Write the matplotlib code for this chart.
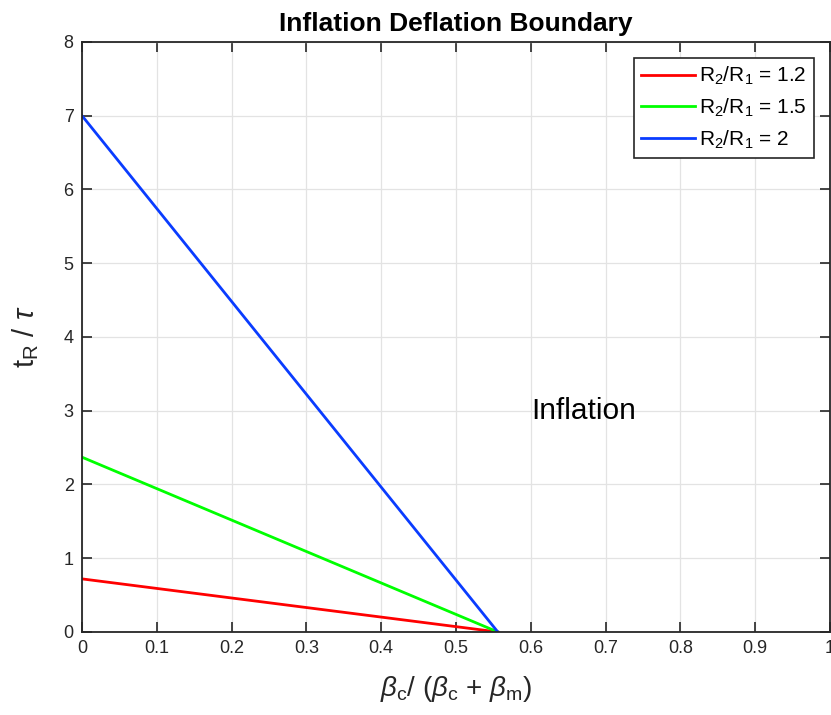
import matplotlib
matplotlib.use('Agg')
import matplotlib.pyplot as plt
import numpy as np

plt.rcParams['font.family'] = ['Liberation Sans', 'DejaVu Sans']
plt.rcParams['mathtext.fontset'] = 'custom'
plt.rcParams['mathtext.rm'] = 'Liberation Sans'
plt.rcParams['mathtext.it'] = 'Liberation Sans:italic'
plt.rcParams['mathtext.bf'] = 'Liberation Sans:bold'

# boundary lines: (x, t_R/tau) end points
x_vals = [0.0, 0.556]
ratio_labels = ['1.2', '1.5', '2']
boundary_y = {
    '1.2': [0.72, 0.0],
    '1.5': [2.37, 0.0],
    '2': [7.0, 0.0],
}
colors = ['#ff0000', '#00ff00', '#0a3cff']

fig = plt.figure(figsize=(8.31, 7.15), dpi=100)
ax = fig.add_axes([0.0987, 0.1161, 0.9, 0.8252])

for r, c in zip(ratio_labels, colors):
    ax.plot(x_vals, boundary_y[r], color=c, linewidth=2.0,
            label=r'R$_\mathregular{2}$/R$_\mathregular{1}$ = ' + r)

ax.set_xlim(0, 1)
ax.set_ylim(0, 8)
ax.set_xticks(np.arange(0, 1.01, 0.1))
ax.set_xticklabels(['0', '0.1', '0.2', '0.3', '0.4', '0.5', '0.6', '0.7', '0.8', '0.9', '1'])
ax.set_yticks(np.arange(0, 9, 1))
ax.tick_params(direction='in', top=True, right=True, labelsize=13, colors='#262626',
               length=7, width=1.2, pad=6)
for s in ax.spines.values():
    s.set_color('#262626')
    s.set_linewidth(1.3)
ax.grid(True, color='#e3e3e3', linewidth=0.9)
ax.set_axisbelow(True)

ax.text(0.6, 3.0, 'Inflation', fontsize=21.5, va='center', ha='left')

ax.set_title('Inflation Deflation Boundary', fontsize=19, fontweight='bold', pad=8)
ax.set_xlabel(r'$\beta_\mathregular{c}$/ ($\beta_\mathregular{c}$ + $\beta_\mathregular{m}$)',
              fontsize=20, color='#262626', labelpad=12)
ax.set_ylabel(r't$_\mathregular{R}$ / $\tau$', fontsize=21, color='#262626', labelpad=16)

leg = ax.legend(loc='upper right', fontsize=15, fancybox=False, framealpha=1,
                edgecolor='#262626', handlelength=2.6, handletextpad=0.2,
                borderaxespad=0.75, labelspacing=0.45, borderpad=0.35)
leg.get_frame().set_linewidth(1.2)

fig.savefig('out.png', dpi=100)
